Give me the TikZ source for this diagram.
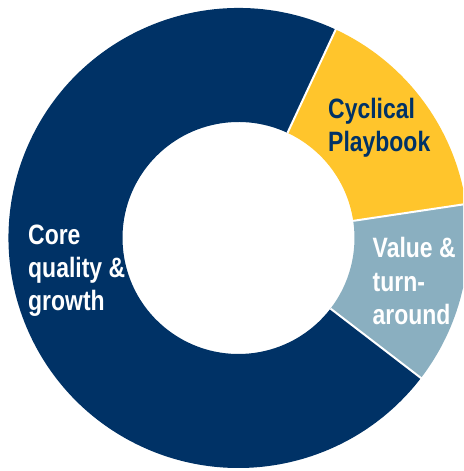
\documentclass[tikz,border=0pt]{standalone}
\usepackage{fontspec}
\newfontfamily\lblfont[FakeStretch=0.82]{Liberation Sans}
\usetikzlibrary{calc}
\definecolor{navy}{RGB}{0,50,102}
\definecolor{gold}{RGB}{255,197,44}
\definecolor{steel}{RGB}{138,175,192}
\tikzset{
  seg/.style={draw=none},
  sep/.style={draw=white, line width=2pt},
  lbl/.style={anchor=base west, inner sep=0pt, font=\lblfont\bfseries\fontsize{28}{33}\selectfont},
}
\begin{document}
\begin{tikzpicture}[x=1pt,y=1pt]
\useasboundingbox (0,0) rectangle (463,471);
\clip (0,0) rectangle (463,471);
\coordinate (c) at (238.5,233);
\def\R{230}
\def\r{116}
% Core quality & growth
\fill[navy] ($(c)+(65:\R)$) arc[start angle=65, end angle=322.5, radius=\R]
  -- ($(c)+(322.5:\r)$) arc[start angle=322.5, end angle=65, radius=\r] -- cycle;
% Cyclical Playbook
\fill[gold] ($(c)+(8.5:\R)$) arc[start angle=8.5, end angle=65, radius=\R]
  -- ($(c)+(65:\r)$) arc[start angle=65, end angle=8.5, radius=\r] -- cycle;
% Value & turnaround
\fill[steel] ($(c)+(-37.5:\R)$) arc[start angle=-37.5, end angle=8.5, radius=\R]
  -- ($(c)+(8.5:\r)$) arc[start angle=8.5, end angle=-37.5, radius=\r] -- cycle;
% separators
\draw[sep] ($(c)+(65:\r)$) -- ($(c)+(65:\R+2)$);
\draw[sep] ($(c)+(8.5:\r)$) -- ($(c)+(8.5:\R+2)$);
\draw[sep] ($(c)+(-37.5:\r)$) -- ($(c)+(-37.5:\R+2)$);
% labels
\node[lbl, text=navy] (cyc1) at (328,352) {Cyclical};
\node[lbl, text=navy] (cyc2) at (328,319) {Playbook};
\node[lbl, text=white] (val1) at (372.5,213) {Value \&};
\node[lbl, text=white] (val2) at (372.5,179.5) {turn-};
\node[lbl, text=white] (val3) at (372.5,146) {around};
\node[lbl, text=white] (core1) at (28,226) {Core};
\node[lbl, text=white] (core2) at (28,193) {quality \&};
\node[lbl, text=white] (core3) at (28,160) {growth};
\end{tikzpicture}
\end{document}
